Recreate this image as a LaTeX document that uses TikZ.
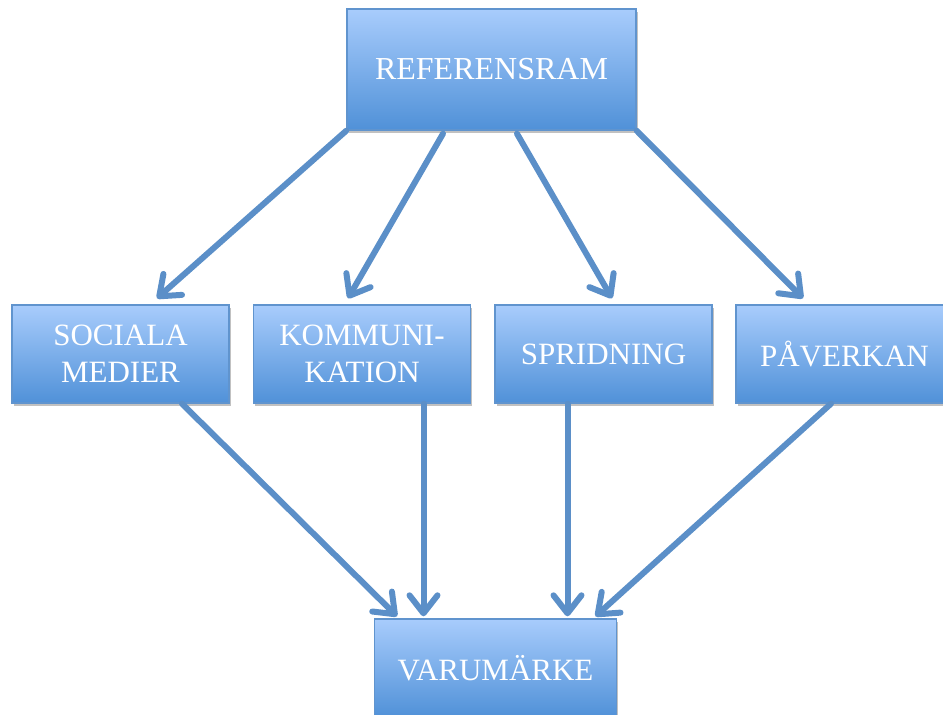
\documentclass[tikz,border=0pt]{standalone}
\usepackage{fontspec}
\setmainfont{Liberation Serif}
\usetikzlibrary{arrows.meta,calc,shadows}
\definecolor{boxtop}{RGB}{168,204,252}
\definecolor{boxbot}{RGB}{80,145,216}
\definecolor{boxedge}{RGB}{96,148,206}
\definecolor{arrcol}{RGB}{91,143,200}
\tikzset{
  bluebox/.style={rectangle, draw=boxedge, line width=1.4pt,
    top color=boxtop, bottom color=boxbot, text=white,
    align=center, inner sep=0pt,
    font=\fontsize{31}{37}\selectfont,
    drop shadow={shadow xshift=1.5pt, shadow yshift=-3pt, opacity=0.35, fill=black!70}},
  midbox/.style={bluebox, minimum width=217pt, minimum height=98pt},
  arr/.style={draw=arrcol, line width=6pt, line cap=round,
    -{Straight Barb[length=18pt,width=28pt,round]}}
}
\begin{document}
\begin{tikzpicture}[x=1pt,y=-1pt]
\useasboundingbox (0,0) rectangle (943,715);
\node[bluebox, minimum width=289pt, minimum height=121pt, font=\fontsize{32}{38}\selectfont] (ref) at (491.5,69.5) {REFERENSRAM};
\node[midbox] (soc) at (120.5,354) {SOCIALA\\MEDIER};
\node[midbox] (kom) at (362,354) {KOMMUNI-\\KATION};
\node[midbox] (spr) at (603.5,354) {SPRIDNING};
\node[midbox] (pav) at (844.5,354) {PÅVERKAN};
\node[bluebox, minimum width=242pt, minimum height=98pt] (var) at (495.5,668) {VARUMÄRKE};
\draw[arr] (ref.south west) -- ($(soc.north)+(36.5,-6)$);
\draw[arr] ($(ref.south)+(-48.5,3)$) -- ($(kom.north)+(-14,-6)$);
\draw[arr] ($(ref.south)+(25.5,3)$) -- ($(spr.north)+(8.5,-6)$);
\draw[arr] (ref.south east) -- ($(pav.north)+(-41.5,-6)$);
\draw[arr] ($(soc.south)+(61.5,0)$) -- ($(var.north)+(-98.5,-2)$);
\draw[arr] ($(kom.south)+(61.5,0)$) -- ($(var.north)+(-72,-2)$);
\draw[arr] ($(spr.south)+(-36,0)$) -- ($(var.north)+(72,-2)$);
\draw[arr] ($(pav.south)+(-13.5,0)$) -- ($(var.north)+(100,-2)$);
\end{tikzpicture}
\end{document}
